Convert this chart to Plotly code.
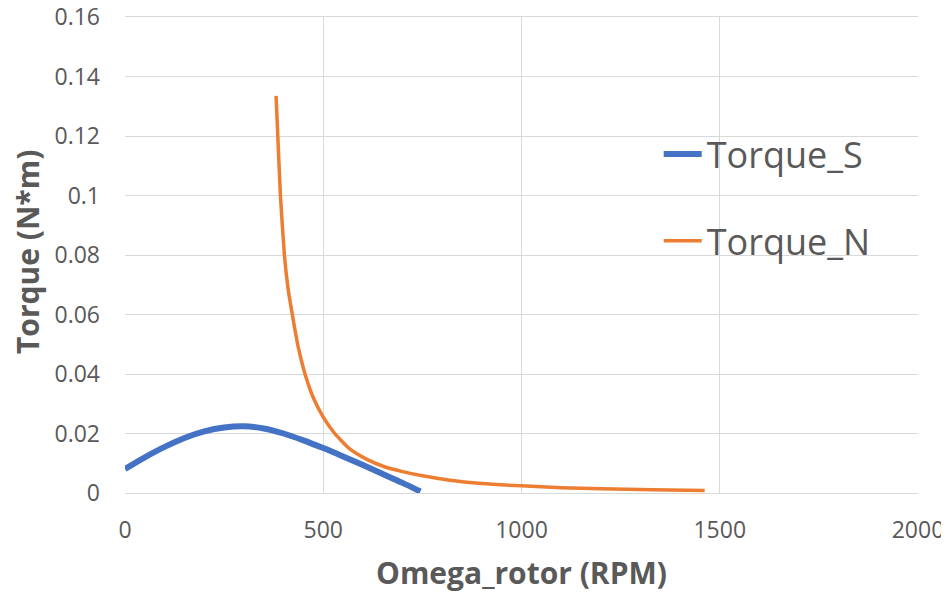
import plotly.graph_objects as go

# Torque_S (blue) data
rpm_s = [0, 50, 100, 150, 200, 250, 300, 350, 400, 450, 500, 550, 600, 650, 700, 745]
torque_s = [0.0081, 0.0120, 0.0155, 0.0185, 0.0207, 0.0220, 0.0224, 0.0217, 0.0200, 0.0177,
            0.0151, 0.0123, 0.0094, 0.0064, 0.0034, 0.0005]

# Torque_N (orange) data
rpm_n = [381, 386, 392, 402, 411, 422, 437, 454, 475, 500, 529, 567, 610, 651,
         700, 750, 819, 900, 1000, 1100, 1200, 1330, 1462]
torque_n = [0.1335, 0.118, 0.100, 0.080, 0.069, 0.060, 0.049, 0.040, 0.032, 0.0255, 0.0200,
            0.0148, 0.0113, 0.0090, 0.0072, 0.0058, 0.0043, 0.0032, 0.0024, 0.0018, 0.0014,
            0.0011, 0.0008]

x_ticks = [0, 500, 1000, 1500, 2000]
y_ticks = [0, 0.02, 0.04, 0.06, 0.08, 0.1, 0.12, 0.14, 0.16]
y_ticktext = ["0", "0.02", "0.04", "0.06", "0.08", "0.1", "0.12", "0.14", "0.16"]

FONT = "Open Sans"
GRAY = "#595959"

fig = go.Figure()
fig.add_trace(go.Scatter(x=rpm_s, y=torque_s, mode="lines", name="Torque_S",
                         line=dict(color="#4472C4", width=6, shape="spline", smoothing=0.8),
                         legendgroup="s"))
fig.add_trace(go.Scatter(x=rpm_n, y=torque_n, mode="lines", name="Torque_N",
                         line=dict(color="#ED7D31", width=3.5, shape="spline", smoothing=0.5),
                         legendgroup="n"))

fig.update_layout(
    width=949, height=593,
    margin=dict(l=117, r=39, t=9, b=108, autoexpand=False),
    paper_bgcolor="white", plot_bgcolor="white",
    font=dict(family=FONT, color=GRAY),
    showlegend=True,
    legend=dict(x=0.673, y=0.775, xanchor="left", yanchor="top",
                font=dict(size=36, color=GRAY, family=FONT),
                bgcolor="rgba(0,0,0,0)", tracegroupgap=37,
                traceorder="grouped", itemwidth=38),
    annotations=[
        dict(text="<b>Omega_rotor (RPM)</b>", xref="paper", yref="paper",
             x=0.5, y=(493 - 572) / 476, xanchor="center", yanchor="middle",
             showarrow=False, font=dict(size=30, color=GRAY, family=FONT)),
        dict(text="<b>Torque (N*m)</b>", xref="paper", yref="paper",
             x=(27 - 125) / 793, y=(493 - 252) / 476, xanchor="center", yanchor="middle",
             textangle=-90, showarrow=False, font=dict(size=30, color=GRAY, family=FONT)),
    ],
)
fig.update_xaxes(range=[0, 2000], tickvals=x_ticks, showgrid=True, gridcolor="#D9D9D9", gridwidth=1,
                 zeroline=False, showline=True, linecolor="#D9D9D9", automargin=False,
                 ticklabeloverflow="allow",
                 tickfont=dict(size=23, color=GRAY), ticks="", ticklabelstandoff=16)
fig.update_yaxes(range=[0, 0.16], tickvals=y_ticks, ticktext=y_ticktext, showgrid=True,
                 gridcolor="#D9D9D9", gridwidth=1, zeroline=False, showline=False, automargin=False,
                 ticklabeloverflow="allow", mirror=False,
                 tickfont=dict(size=23, color=GRAY), ticks="", ticklabelstandoff=24)
# top border line matching the 0.16 gridline
fig.update_xaxes(mirror=True)

fig.write_html("out.html")
